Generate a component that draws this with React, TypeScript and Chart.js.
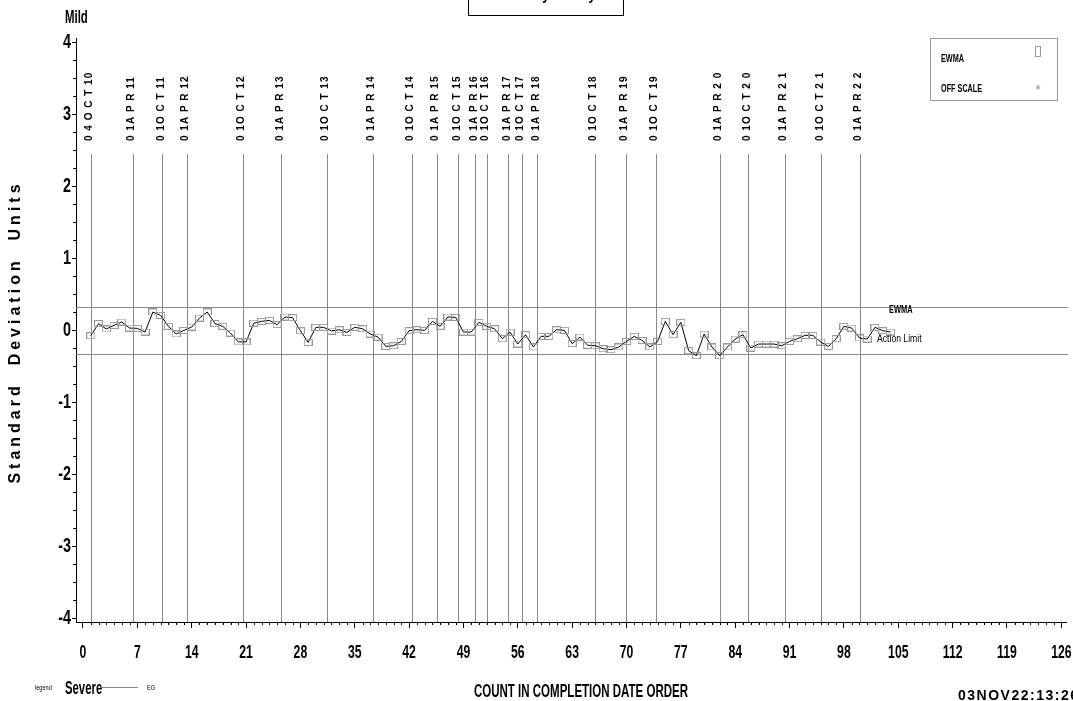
import React, { useEffect, useRef } from 'react';
import { Chart, registerables } from 'chart.js';

Chart.register(...registerables);

// ---------- data ----------
const ewmaValues = [
  -0.074, 0.093, 0.019, 0.07, 0.116, 0.032, 0.028, -0.023, 0.255, 0.208,
  0.056, -0.05, 0.0, 0.046, 0.17, 0.255, 0.093, 0.056, -0.037, -0.16,
  -0.16, 0.1, 0.125, 0.139, 0.079, 0.185, 0.176, -0.005, -0.167, 0.042,
  0.042, -0.009, 0.009, -0.028, 0.042, 0.023, -0.051, -0.093, -0.222, -0.213,
  -0.153, -0.005, 0.009, 0.0, 0.125, 0.056, 0.185, 0.18, -0.023, -0.023,
  0.111, 0.056, 0.023, -0.116, -0.023, -0.19, -0.06, -0.231, -0.083, -0.083,
  0.009, 0.0, -0.185, -0.093, -0.208, -0.213, -0.255, -0.269, -0.231, -0.153,
  -0.083, -0.139, -0.231, -0.153, 0.125, -0.06, 0.111, -0.282, -0.352, -0.051,
  -0.231, -0.352, -0.231, -0.12, -0.06, -0.245, -0.19, -0.19, -0.19, -0.213,
  -0.153, -0.116, -0.069, -0.069, -0.162, -0.222, -0.116, 0.056, 0.032, -0.106,
  -0.12, 0.042, -0.005, -0.023,
];

const upperActionLimit = 0.33;
const lowerActionLimit = -0.33;

const dateLabels = [
  '0 4 O C T 10', '0 1A P R 11', '0 1O C T 11', '0 1A P R 12', '0 1O C T 12',
  '0 1A P R 13', '0 1O C T 13', '0 1A P R 14', '0 1O C T 14', '0 1A P R 15',
  '0 1O C T 15', '0 1A P R 16', '0 1O C T 16', '0 1A P R 17', '0 1O C T 17',
  '0 1A P R 18', '0 1O C T 18', '0 1A P R 19', '0 1O C T 19', '0 1A P R 2 0',
  '0 1O C T 2 0', '0 1A P R 2 1', '0 1O C T 2 1', '0 1A P R 2 2',
];
const datePositions = [
  1.0, 6.38, 10.24, 13.35, 20.55, 25.55, 31.44, 37.33, 42.4, 45.53,
  48.36, 50.55, 52.06, 54.77, 56.51, 58.51, 65.88, 69.91, 73.78, 82.06,
  85.7, 90.4, 95.1, 100.08,
];

const xTickValues = [0, 7, 14, 21, 28, 35, 42, 49, 56, 63, 70, 77, 84, 91, 98, 105, 112, 119, 126];
const yTickValues = [-4, -3, -2, -1, 0, 1, 2, 3, 4];

const SANS = '"Liberation Sans", Arial, Helvetica, sans-serif';

function makeMarker(): HTMLCanvasElement {
  const c = document.createElement('canvas');
  c.width = 9;
  c.height = 7;
  const g = c.getContext('2d')!;
  g.strokeStyle = '#9a9a9a';
  g.lineWidth = 1;
  g.strokeRect(0.5, 0.5, 8, 6);
  return c;
}

// draw horizontally-condensed text (SAS-like narrow Helvetica)
function drawText(
  ctx: CanvasRenderingContext2D,
  text: string,
  x: number,
  y: number,
  font: string,
  sx: number,
  align: CanvasTextAlign = 'left',
  baseline: CanvasTextBaseline = 'alphabetic',
  color = '#000',
) {
  ctx.save();
  ctx.font = font;
  ctx.fillStyle = color;
  ctx.textAlign = align;
  ctx.textBaseline = baseline;
  ctx.translate(x, y);
  ctx.scale(sx, 1);
  ctx.fillText(text, 0, 0);
  ctx.restore();
}

const refLinesPlugin = {
  id: 'refLines',
  beforeDatasetsDraw(chart: any) {
    const { ctx, chartArea, scales } = chart;
    const x = scales.x;
    const y = scales.y;
    ctx.save();
    ctx.strokeStyle = '#8a8a8a';
    ctx.lineWidth = 1;
    [upperActionLimit, lowerActionLimit].forEach((v) => {
      const py = Math.round(y.getPixelForValue(v)) + 0.5;
      ctx.beginPath();
      ctx.moveTo(chartArea.left, py);
      ctx.lineTo(chartArea.right + 2, py);
      ctx.stroke();
    });
    const topPx = y.getPixelForValue(2.45);
    datePositions.forEach((d) => {
      const px = Math.round(x.getPixelForValue(d)) + 0.5;
      ctx.beginPath();
      ctx.moveTo(px, topPx);
      ctx.lineTo(px, chartArea.bottom);
      ctx.stroke();
    });
    ctx.restore();
  },
};

const decorPlugin = {
  id: 'decor',
  afterDraw(chart: any) {
    const { ctx, chartArea, scales } = chart;
    const x = scales.x;
    const y = scales.y;
    ctx.save();

    // minor ticks
    ctx.strokeStyle = '#000';
    ctx.lineWidth = 1;
    for (let v = 0; v <= 126; v++) {
      if (v % 7 === 0) continue;
      const px = Math.round(x.getPixelForValue(v)) + 0.5;
      ctx.beginPath();
      ctx.moveTo(px, chartArea.bottom);
      ctx.lineTo(px, chartArea.bottom + 3);
      ctx.stroke();
    }
    for (let v = -4; v <= 4.001; v += 0.25) {
      if (Math.abs(v - Math.round(v)) < 1e-6) continue;
      const py = Math.round(y.getPixelForValue(v)) + 0.5;
      ctx.beginPath();
      ctx.moveTo(chartArea.left - 3, py);
      ctx.lineTo(chartArea.left, py);
      ctx.stroke();
    }

    // axis tick labels from the scales' own ticks
    x.ticks.forEach((t: any) => {
      const px = x.getPixelForValue(t.value);
      drawText(ctx, String(t.label), px, 658, `bold 18px ${SANS}`, 0.68, 'center');
    });
    y.ticks.forEach((t: any) => {
      const py = y.getPixelForValue(t.value);
      drawText(ctx, String(t.label), 71, py, `bold 20px ${SANS}`, 0.72, 'right', 'middle');
    });

    // date labels (rotated)
    ctx.fillStyle = '#000';
    ctx.font = `bold 10px ${SANS}`;
    (ctx as any).letterSpacing = '1px';
    ctx.textAlign = 'left';
    ctx.textBaseline = 'middle';
    datePositions.forEach((d, i) => {
      const px = x.getPixelForValue(d) - 1.5;
      ctx.save();
      ctx.translate(px, 141);
      ctx.rotate(-Math.PI / 2);
      ctx.fillText(dateLabels[i], 0, 0);
      ctx.restore();
    });
    (ctx as any).letterSpacing = '0px';

    // y axis title
    ctx.save();
    ctx.translate(16, 332);
    ctx.rotate(-Math.PI / 2);
    ctx.font = `bold 16px ${SANS}`;
    (ctx as any).letterSpacing = '4px';
    ctx.textAlign = 'center';
    ctx.textBaseline = 'middle';
    ctx.fillText('Standard  Deviation  Units', 0, 0);
    ctx.restore();
    (ctx as any).letterSpacing = '0px';

    // Mild
    drawText(ctx, 'Mild', 65, 23, `bold 19px ${SANS}`, 0.6);

    // title box (clipped at top)
    ctx.strokeStyle = '#000';
    ctx.lineWidth = 1;
    ctx.strokeRect(468.5, -5, 155, 20.5);
    drawText(ctx, 'Monthly Survey', 548, 0, `bold 16px ${SANS}`, 0.8, 'center');

    // in-plot labels
    drawText(ctx, 'EWMA', 889, 310, `bold 11px ${SANS}`, 0.68, 'left', 'middle');
    drawText(ctx, 'Action Limit', 877, 339, `11.5px ${SANS}`, 0.75, 'left', 'middle');

    // legend box
    ctx.strokeStyle = '#9a9a9a';
    ctx.strokeRect(930.5, 38.5, 127, 62);
    drawText(ctx, 'EWMA', 941, 59, `bold 11px ${SANS}`, 0.66, 'left', 'middle');
    drawText(ctx, 'OFF SCALE', 941, 89, `bold 11px ${SANS}`, 0.66, 'left', 'middle');
    ctx.strokeStyle = '#9a9a9a';
    ctx.strokeRect(1035.5, 46.5, 5, 10);
    drawText(ctx, '*', 1038, 90, `13px ${SANS}`, 1, 'center', 'middle', '#8a8a8a');

    // bottom texts
    drawText(ctx, 'legend', 35, 690, `8px ${SANS}`, 0.7);
    drawText(ctx, 'Severe', 65, 694, `bold 18px ${SANS}`, 0.63);
    ctx.strokeStyle = '#8a8a8a';
    ctx.beginPath();
    ctx.moveTo(101, 687.5);
    ctx.lineTo(138, 687.5);
    ctx.stroke();
    drawText(ctx, 'EG', 147, 690, `7px ${SANS}`, 0.8);

    drawText(ctx, 'COUNT IN COMPLETION DATE ORDER', 581, 697, `bold 18px ${SANS}`, 0.64, 'center');

    ctx.font = `bold 14px ${SANS}`;
    ctx.fillStyle = '#000';
    ctx.textAlign = 'left';
    ctx.textBaseline = 'alphabetic';
    (ctx as any).letterSpacing = '1.5px';
    ctx.fillText('03NOV22:13:26', 958, 700);
    (ctx as any).letterSpacing = '0px';

    ctx.restore();
  },
};

export default function App() {
  const canvasRef = useRef<HTMLCanvasElement | null>(null);

  useEffect(() => {
    const canvas = canvasRef.current;
    if (!canvas) return;
    const marker = makeMarker();
    const points = ewmaValues.map((v, i) => ({ x: i + 1, y: v }));

    const chart = new Chart(canvas, {
      type: 'line',
      data: {
        datasets: [
          {
            label: 'EWMA',
            data: points,
            borderColor: '#000',
            borderWidth: 1,
            pointStyle: marker as any,
            pointRadius: 4,
            pointHoverRadius: 4,
            tension: 0,
            fill: false,
          },
        ],
      },
      options: {
        animation: false,
        responsive: false,
        devicePixelRatio: 1,
        events: [],
        layout: { padding: { left: 0, right: 7, top: 38, bottom: 0 } },
        plugins: {
          legend: { display: false },
          tooltip: { enabled: false },
          title: { display: false },
        },
        scales: {
          x: {
            type: 'linear',
            position: 'bottom',
            min: -0.9,
            max: 126.6,
            afterBuildTicks: (s: any) => {
              s.ticks = xTickValues.map((v) => ({ value: v }));
            },
            afterFit: (s: any) => {
              s.height = 79;
            },
            grid: {
              display: true,
              drawOnChartArea: false,
              drawTicks: true,
              tickLength: 6,
              color: '#000',
              tickColor: '#000',
            },
            border: { display: true, color: '#000', width: 1 },
            ticks: {
              display: false,
              autoSkip: false,
              maxRotation: 0,
              callback: (v: any) => String(v),
            },
          },
          y: {
            type: 'linear',
            min: -4.05,
            max: 4.06,
            afterBuildTicks: (s: any) => {
              s.ticks = yTickValues.map((v) => ({ value: v }));
            },
            afterFit: (s: any) => {
              s.width = 76;
            },
            grid: {
              display: true,
              drawOnChartArea: false,
              drawTicks: true,
              tickLength: 4,
              color: '#000',
              tickColor: '#000',
            },
            border: { display: true, color: '#000', width: 1 },
            ticks: {
              display: false,
              autoSkip: false,
              callback: (v: any) => String(v),
            },
          },
        },
      },
      plugins: [refLinesPlugin, decorPlugin],
    });

    return () => {
      chart.destroy();
    };
  }, []);

  return (
    <div style={{ position: 'absolute', left: 0, top: 0, width: 1073, height: 701, background: '#fff' }}>
      <canvas ref={canvasRef} width={1073} height={701} style={{ display: 'block' }} />
    </div>
  );
}
